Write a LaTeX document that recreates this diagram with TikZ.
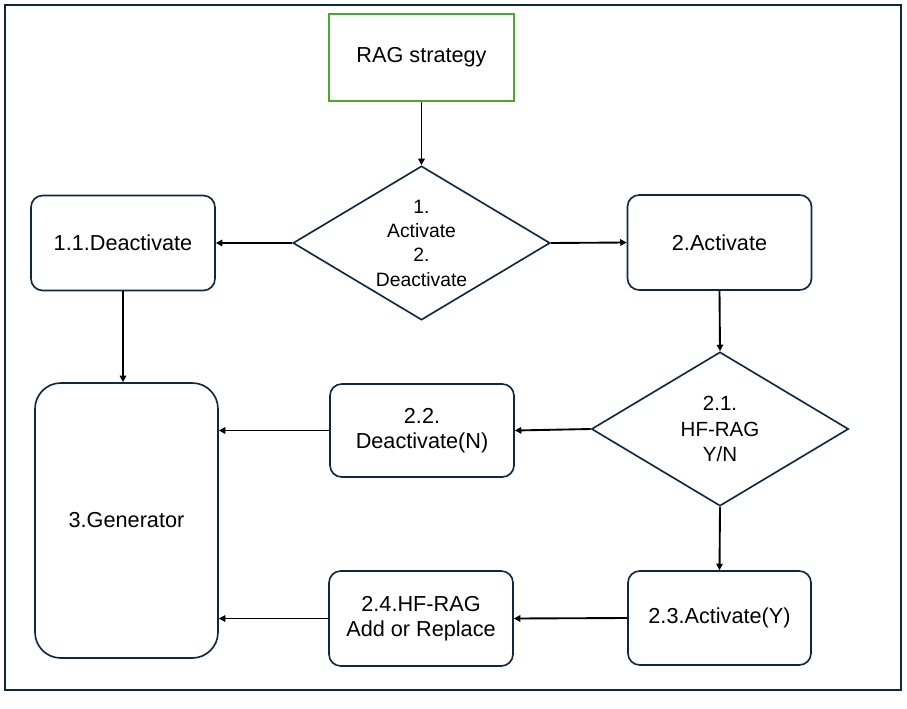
\documentclass[tikz,border=0pt]{standalone}
\usepackage{fontspec}
\setmainfont{Liberation Sans}
\usetikzlibrary{shapes.geometric,arrows.meta}
\definecolor{navy}{HTML}{0E2841}
\definecolor{boxgreen}{HTML}{4EA72E}
\begin{document}
\begin{tikzpicture}[x=0.03cm,y=-0.03cm,
  box/.style={draw=navy,line width=1.4pt,rounded corners=10pt,minimum width=184*0.03cm,
    minimum height=95*0.03cm,align=center,inner sep=0pt,font=\fontsize{18.5}{21}\selectfont},
  startbox/.style={draw=boxgreen,line width=1.4pt,minimum width=185*0.03cm,
    minimum height=87*0.03cm,align=center,inner sep=0pt,font=\fontsize{18.5}{21}\selectfont},
  decision/.style={draw=navy,line width=1.4pt,shape=diamond,inner sep=0pt,
    minimum width=257*0.03cm,minimum height=154*0.03cm},
  dtext/.style={align=center,inner sep=0pt},
  conn/.style={draw=black,line width=1.6pt,-{Triangle[length=5.5pt,width=5.5pt]}}
]
\useasboundingbox (0,0) rectangle (907,708);
\draw[navy,line width=1.6pt] (5,5) rectangle (901,690);

\node[startbox] (rag) at (421.5,57.5) {RAG strategy};
\node[decision] (d1) at (421.5,243) {};
\node[dtext,font=\fontsize{16.5}{20.8}\selectfont] (d1t) at (d1.center) {1.\\Activate\\2.\\Deactivate};
\node[box] (b11) at (123,243) {1.1.Deactivate};
\node[box] (b2) at (719.5,242.5) {2.Activate};
\node[decision] (d2) at (720,429) {};
\node[dtext,font=\fontsize{17.5}{21.5}\selectfont] (d2t) at (d2.center) {2.1.\\HF-RAG\\Y/N};
\node[box,minimum height=93*0.03cm,font=\fontsize{18.5}{21.3}\selectfont] (b22) at (422,430.5) {2.2.\\Deactivate(N)};
\node[box,minimum width=183*0.03cm,minimum height=275*0.03cm,rounded corners=22pt] (gen) at (126.5,520.5) {3.Generator};
\node[box,minimum height=95*0.03cm,font=\fontsize{18.5}{21.3}\selectfont] (b24) at (421,618.5) {2.4.HF-RAG\\Add or Replace};
\node[box,minimum width=183*0.03cm,minimum height=94*0.03cm] (b23) at (719.5,618) {2.3.Activate(Y)};

\draw[conn] (rag.south) -- (d1.north);
\draw[conn] (d1.west) -- (b11.east);
\draw[conn] (d1.east) -- (b2.west);
\draw[conn] (b11.south) -- (b11.south |- gen.north);
\draw[conn] (b2.south) -- (d2.north);
\draw[conn] (d2.west) -- (b22.east);
\draw[conn] (b22.west) -- (gen.east |- b22.west);
\draw[conn] (d2.south) -- (b23.north);
\draw[conn] (b23.west) -- (b24.east);
\draw[conn] (b24.west) -- (gen.east |- b24.west);
\end{tikzpicture}
\end{document}
